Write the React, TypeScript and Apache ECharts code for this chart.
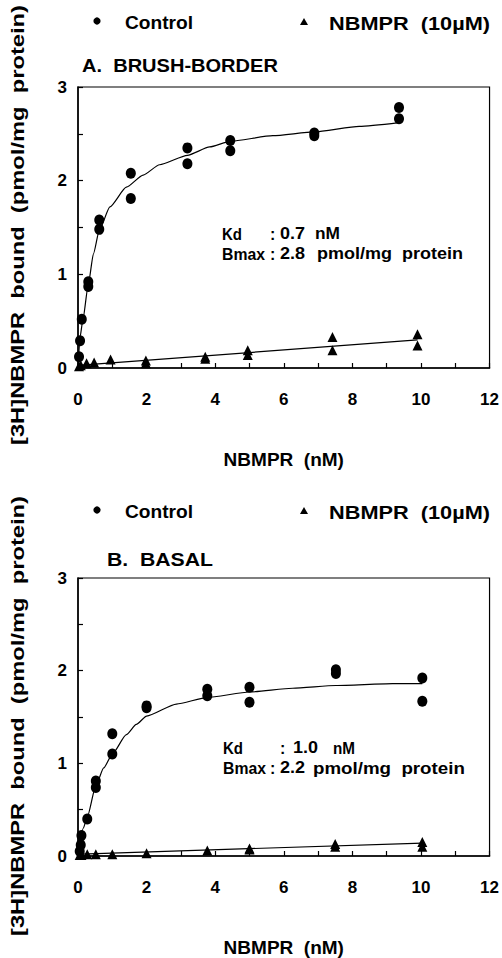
import React, { useEffect, useRef } from "react";
import * as echarts from "echarts";

// ---------- data ----------
const xTicks = [0, 2, 4, 6, 8, 10, 12];
const yTicks = [0, 1, 2, 3];

// Panel A: brush-border
const controlA: number[][] = [
  [0.03, 0.12], [0.06, 0.29], [0.11, 0.52], [0.3, 0.92], [0.3, 0.87],
  [0.62, 1.58], [0.62, 1.48], [1.54, 2.08], [1.54, 1.81], [3.19, 2.35],
  [3.19, 2.18], [4.44, 2.43], [4.44, 2.32], [6.89, 2.51], [6.89, 2.48],
  [9.36, 2.78], [9.36, 2.66],
];
const nbmprA: number[][] = [
  [0.03, 0.02], [0.08, 0.03], [0.25, 0.05], [0.47, 0.06], [0.95, 0.09],
  [1.98, 0.08], [1.98, 0.05], [3.71, 0.12], [3.71, 0.1], [4.95, 0.19],
  [4.95, 0.14], [7.42, 0.33], [7.42, 0.19], [9.9, 0.36], [9.9, 0.24],
];
const fitControlA: number[][] = [
  [0, 0], [0.06, 0.33], [0.14, 0.51], [0.3, 0.89], [0.45, 1.22], [0.62, 1.47],
  [0.93, 1.72], [1.41, 1.93], [1.9, 2.06], [2.38, 2.17], [3.19, 2.27],
  [3.84, 2.36], [4.44, 2.42], [5.68, 2.48], [6.89, 2.52], [8.2, 2.58], [9.36, 2.62],
];
const fitNbmprA: number[][] = [[0.1, 0.03], [9.9, 0.3]];

// Panel B: basal
const controlB: number[][] = [
  [0.05, 0.05], [0.08, 0.12], [0.1, 0.22], [0.27, 0.4], [0.52, 0.81],
  [0.52, 0.74], [1.0, 1.32], [1.0, 1.1], [2.0, 1.62], [2.0, 1.6],
  [3.77, 1.8], [3.77, 1.73], [5.0, 1.82], [5.0, 1.66], [7.52, 2.01],
  [7.52, 1.97], [10.04, 1.92], [10.04, 1.67],
];
const nbmprB: number[][] = [
  [0.05, 0.01], [0.1, 0.01], [0.27, 0.02], [0.52, 0.02], [1.0, 0.02],
  [2.0, 0.03], [3.77, 0.06], [5.0, 0.08], [5.0, 0.07], [7.5, 0.13],
  [7.5, 0.1], [10.04, 0.15], [10.04, 0.1],
];
const fitControlB: number[][] = [
  [0, 0], [0.155, 0.3], [0.27, 0.42], [0.52, 0.76], [0.75, 0.95], [1.0, 1.1],
  [1.41, 1.31], [1.7, 1.42], [2.0, 1.51], [2.87, 1.64], [3.77, 1.71],
  [5.0, 1.77], [6.26, 1.81], [7.52, 1.84], [9.17, 1.86], [10.04, 1.86],
];
const fitNbmprB: number[][] = [[0.1, 0.02], [10.04, 0.14]];

const legendLabels = ["Control", "NBMPR  (10µM)"];
const panelTitles = ["A.  BRUSH-BORDER", "B.  BASAL"];
const kdValues = ["0.7", "1.0"];
const bmaxValues = ["2.8", "2.2"];
const xTitle = "NBMPR  (nM)";
const yTitle = "[3H]NBMPR  bound  (pmol/mg  protein)";

const FONT = '"Liberation Sans", Arial, Helvetica, sans-serif';

export default function App() {
  const ref = useRef<HTMLDivElement>(null);

  useEffect(() => {
    if (!ref.current) return;
    const chart = echarts.init(ref.current, undefined, { renderer: "svg" });

    const cv = document.createElement("canvas");
    const ctx = cv.getContext("2d")!;
    const measure = (t: string, size: number) => {
      ctx.font = `bold ${size}px ${FONT}`;
      return ctx.measureText(t).width || t.length * size * 0.55;
    };

    const yScale = 440 / measure(yTitle, 18);

    const gridTops = [87, 578];
    const gridH = 281;
    const offs = [0, 491];

    const mkX = (gi: number) => ({
      type: "value",
      gridIndex: gi,
      min: 0,
      max: 12,
      interval: 1,
      name: xTitle,
      nameLocation: "middle",
      nameGap: 82,
      nameTextStyle: { fontFamily: FONT, fontWeight: "bold", fontSize: 19, color: "#000" },
      axisLine: { lineStyle: { color: "#000", width: 1.5 } },
      axisTick: { inside: true, length: 5, lineStyle: { color: "#000", width: 1.2 } },
      axisLabel: {
        margin: 23,
        fontFamily: FONT,
        fontWeight: "bold",
        fontSize: 17,
        color: "#000",
        formatter: (v: number) => (xTicks.includes(v) ? String(v) : ""),
      },
      splitLine: { show: false },
    });
    const mkY = (gi: number) => ({
      type: "value",
      gridIndex: gi,
      min: 0,
      max: 3,
      interval: 0.5,
      axisLine: { show: true, lineStyle: { color: "#000", width: 1.5 } },
      axisTick: { show: true, inside: true, length: 5, lineStyle: { color: "#000", width: 1.2 } },
      axisLabel: {
        margin: 11,
        fontFamily: FONT,
        fontWeight: "bold",
        fontSize: 17,
        color: "#000",
        formatter: (v: number) => (yTicks.includes(v) ? String(v) : ""),
      },
      splitLine: { show: false },
    });

    const scatter = (name: string, data: number[][], gi: number, symbol: string, size: number[]) => ({
      name,
      type: "scatter",
      xAxisIndex: gi,
      yAxisIndex: gi,
      data,
      symbol,
      symbolSize: size,
      itemStyle: { color: "#000", opacity: 1 },
      z: 3,
    });
    const line = (name: string, data: number[][], gi: number) => ({
      name,
      type: "line",
      xAxisIndex: gi,
      yAxisIndex: gi,
      data,
      showSymbol: false,
      smooth: 0.2,
      smoothMonotone: "x",
      lineStyle: { color: "#000", width: 1.2 },
      z: 2,
    });

    // text fitted to a target width measured on the reference
    const txt = (x: number, y: number, text: string, size: number, width?: number) => ({
      type: "text",
      x,
      y,
      scaleX: width ? width / measure(text, size) : 1,
      style: {
        text,
        fontFamily: FONT,
        fontWeight: "bold",
        fontSize: size,
        fill: "#000",
        textVerticalAlign: "middle",
        verticalAlign: "middle",
      },
    });

    const graphics: any[] = [];
    [0, 1].forEach((p) => {
      const o = offs[p];
      const legY = p === 0 ? 22 : 511;
      graphics.push({ type: "circle", shape: { cx: 97, cy: legY - 1, r: 3.6 }, style: { fill: "#000" } });
      graphics.push({
        type: "polygon",
        shape: { points: [[304, legY - 4], [300, legY + 3], [308, legY + 3]] },
        style: { fill: "#000" },
      });
      graphics.push(txt(125, legY + 1, legendLabels[0], 19, 68));
      graphics.push(txt(329, legY + 1, legendLabels[1], 19, 161));
      graphics.push(txt(p === 0 ? 82 : 107, p === 0 ? 65 : 559, panelTitles[p], 19, p === 0 ? 196 : 106));
      // annotation
      const ky = p === 0 ? 234 : 748;
      graphics.push(txt(p === 0 ? 222 : 223, ky, "Kd", 16, 20));
      graphics.push(txt(p === 0 ? 270 : 280, ky, ":", 16));
      graphics.push(txt(p === 0 ? 280 : 293, ky, kdValues[p], 16, 25));
      graphics.push(txt(p === 0 ? 315 : 333, ky, "nM", 16, p === 0 ? 25 : 22));
      graphics.push(txt(p === 0 ? 222 : 223, ky + 20, "Bmax", 16, 43));
      graphics.push(txt(270, ky + 20, ":", 16));
      graphics.push(txt(280, ky + 20, bmaxValues[p], 16, 25));
      graphics.push(txt(p === 0 ? 317 : 313, ky + 20, "pmol/mg  protein", 16, p === 0 ? 146 : 152));
      // y-axis title
      graphics.push({
        type: "text",
        x: 18,
        y: 225 + o,
        rotation: Math.PI / 2,
        scaleX: yScale,
        style: {
          text: yTitle,
          fontFamily: FONT,
          fontWeight: "bold",
          fontSize: 18,
          fill: "#000",
          align: "center",
          textAlign: "center",
          verticalAlign: "middle",
          textVerticalAlign: "middle",
        },
      });
    });

    chart.setOption({
      animation: false,
      backgroundColor: "#fff",
      grid: gridTops.map((t) => ({
        left: 78,
        top: t,
        width: 413,
        height: gridH,
        show: true,
        borderColor: "#000",
        borderWidth: 1.2,
        backgroundColor: "transparent",
      })),
      xAxis: [mkX(0), mkX(1)],
      yAxis: [mkY(0), mkY(1)],
      series: [
        line("Control fit A", fitControlA, 0),
        line("NBMPR fit A", fitNbmprA, 0),
        scatter("Control", controlA, 0, "circle", [10, 11]),
        scatter("NBMPR (10µM)", nbmprA, 0, "triangle", [10, 10]),
        line("Control fit B", fitControlB, 1),
        line("NBMPR fit B", fitNbmprB, 1),
        scatter("Control", controlB, 1, "circle", [10, 11]),
        scatter("NBMPR (10µM)", nbmprB, 1, "triangle", [10, 10]),
      ],
      graphic: graphics,
    });

    return () => chart.dispose();
  }, []);

  return (
    <div
      ref={ref}
      style={{ position: "absolute", left: 0, top: 0, width: 502, height: 958, background: "#fff" }}
    />
  );
}
